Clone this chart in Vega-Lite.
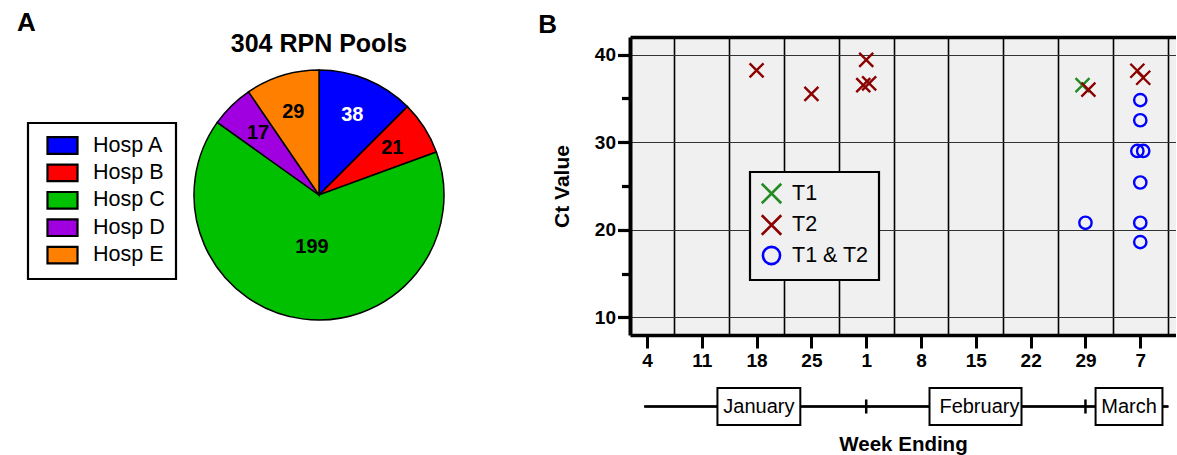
{
  "$schema": "https://vega.github.io/schema/vega-lite/v6.json",
  "background": "white",
  "padding": {"left": 16, "top": 10, "right": 0, "bottom": 0},
  "config": {
    "font": "Liberation Sans",
    "view": {"stroke": null},
    "title": {"font": "Liberation Sans", "fontWeight": "bold", "color": "black"},
    "axis": {"labelFont": "Liberation Sans", "titleFont": "Liberation Sans", "labelColor": "black", "titleColor": "black"},
    "legend": {"labelFont": "Liberation Sans", "labelColor": "black", "strokeWidth": 2.2}
  },
  "resolve": {"scale": {"color": "independent", "shape": "independent"}, "legend": {"color": "independent", "shape": "independent"}},
  "datasets": {
    "pools": [
      {"hospital": "Hosp A", "count": 38},
      {"hospital": "Hosp B", "count": 21},
      {"hospital": "Hosp C", "count": 199},
      {"hospital": "Hosp D", "count": 17},
      {"hospital": "Hosp E", "count": 29}
    ],
    "ct": [
      {"week": "2020-01-18T00:00:00Z", "target": "T2", "ct": 38.2},
      {"week": "2020-01-25T00:00:00Z", "target": "T2", "ct": 35.5},
      {"week": "2020-02-01T00:00:00Z", "target": "T2", "ct": 39.4},
      {"week": "2020-01-31T15:00:00Z", "target": "T2", "ct": 36.5},
      {"week": "2020-02-01T09:00:00Z", "target": "T2", "ct": 36.7},
      {"week": "2020-02-28T15:00:00Z", "target": "T1", "ct": 36.5},
      {"week": "2020-02-29T09:00:00Z", "target": "T2", "ct": 36.0},
      {"week": "2020-03-06T15:00:00Z", "target": "T2", "ct": 38.15},
      {"week": "2020-03-07T09:00:00Z", "target": "T2", "ct": 37.35},
      {"week": "2020-02-29T00:00:00Z", "target": "T1 & T2", "ct": 20.8},
      {"week": "2020-03-07T00:00:00Z", "target": "T1 & T2", "ct": 34.8},
      {"week": "2020-03-07T00:00:00Z", "target": "T1 & T2", "ct": 32.5},
      {"week": "2020-03-06T15:00:00Z", "target": "T1 & T2", "ct": 29.0},
      {"week": "2020-03-07T09:00:00Z", "target": "T1 & T2", "ct": 29.0},
      {"week": "2020-03-07T00:00:00Z", "target": "T1 & T2", "ct": 25.4},
      {"week": "2020-03-07T00:00:00Z", "target": "T1 & T2", "ct": 20.8},
      {"week": "2020-03-07T00:00:00Z", "target": "T1 & T2", "ct": 18.6}
    ],
    "months": [
      {"month": "January", "start": "2020-01-13T00:00:00Z", "end": "2020-01-23T14:00:00Z", "mid": "2020-01-18T07:00:00Z"},
      {"month": "February", "start": "2020-02-09T02:00:00Z", "end": "2020-02-20T20:00:00Z", "mid": "2020-02-15T11:00:00Z"},
      {"month": "March", "start": "2020-03-01T07:00:00Z", "end": "2020-03-09T20:00:00Z", "mid": "2020-03-05T13:30:00Z"}
    ],
    "boundaries": [
      {"date": "2020-02-01T00:00:00Z"},
      {"date": "2020-02-29T00:00:00Z"}
    ]
  },
  "spacing": 91,
  "hconcat": [
    {
      "title": {"text": "A", "anchor": "start", "frame": "bounds", "fontSize": 26, "dx": -10, "offset": -4},
      "vconcat": [
        {
          "width": 250,
          "height": 316,
          "title": {"text": "304 RPN Pools", "fontSize": 25, "anchor": "middle", "offset": -20},
          "data": {"name": "pools"},
          "encoding": {
            "theta": {"field": "count", "type": "quantitative", "stack": true},
            "order": {"field": "hospital", "type": "ordinal", "sort": "ascending"}
          },
          "layer": [
            {
              "mark": {"type": "arc", "stroke": "black", "strokeWidth": 1.5, "outerRadius": 125},
              "encoding": {
                "color": {
                  "field": "hospital",
                  "type": "nominal",
                  "scale": {
                    "domain": ["Hosp A", "Hosp B", "Hosp C", "Hosp D", "Hosp E"],
                    "range": ["#0000ff", "#ff0000", "#00c000", "#a000e0", "#ff8000"]
                  },
                  "legend": {
                    "orient": "none",
                    "legendX": -166,
                    "legendY": 86,
                    "title": null,
                    "symbolType": "M-1.43,-0.79L1.43,-0.79L1.43,0.79L-1.43,0.79Z",
                    "symbolSize": 441,
                    "symbolStrokeColor": "black",
                    "symbolStrokeWidth": 2.2,
                    "labelFontSize": 21.5,
                    "strokeColor": "black",
                    "fillColor": "white",
                    "padding": 10.5,
                    "rowPadding": 1.4,
                    "labelOffset": 18.5,
                    "symbolOffset": 12
                  }
                }
              }
            },
            {
              "mark": {
                "type": "text",
                "fontSize": 20,
                "fontWeight": "bold",
                "radius": {"expr": "datum.hospital === 'Hosp C' ? 52 : 87"}
              },
              "encoding": {
                "detail": {"field": "hospital", "type": "nominal"},
                "text": {"field": "count", "type": "quantitative"},
                "color": {
                  "condition": {"test": "datum.hospital === 'Hosp A'", "value": "white"},
                  "value": "black"
                }
              }
            }
          ]
        }
      ]
    },
    {
      "title": {"text": "B", "anchor": "start", "frame": "bounds", "fontSize": 26, "dx": -13, "offset": -1},
      "spacing": 17,
      "vconcat": [
        {
          "width": 546,
          "height": 298,
          "view": {"fill": "#f0f0f0"},
          "data": {"name": "ct"},
          "resolve": {"axis": {"x": "independent", "y": "independent"}},
          "layer": [
            {
              "mark": {"type": "point", "filled": false, "strokeWidth": 0, "opacity": 0},
              "encoding": {
                "x": {
                  "field": "week",
                  "type": "temporal",
                  "scale": {
                    "type": "utc",
                    "domain": [
                      {"year": 2020, "month": 1, "date": 1, "hours": 20, "utc": true},
                      {"year": 2020, "month": 3, "date": 11, "hours": 13, "minutes": 30, "utc": true}
                    ]
                  },
                  "axis": {
                    "orient": "top",
                    "values": [
                      {"year": 2020, "month": 1, "date": 7, "hours": 12, "utc": true},
                      {"year": 2020, "month": 1, "date": 14, "hours": 12, "utc": true},
                      {"year": 2020, "month": 1, "date": 21, "hours": 12, "utc": true},
                      {"year": 2020, "month": 1, "date": 28, "hours": 12, "utc": true},
                      {"year": 2020, "month": 2, "date": 4, "hours": 12, "utc": true},
                      {"year": 2020, "month": 2, "date": 11, "hours": 12, "utc": true},
                      {"year": 2020, "month": 2, "date": 18, "hours": 12, "utc": true},
                      {"year": 2020, "month": 2, "date": 25, "hours": 12, "utc": true},
                      {"year": 2020, "month": 3, "date": 3, "hours": 12, "utc": true},
                      {"year": 2020, "month": 3, "date": 10, "hours": 12, "utc": true}
                    ],
                    "grid": true,
                    "gridColor": "black",
                    "gridWidth": 1.6,
                    "ticks": false,
                    "labels": false,
                    "domain": true,
                    "domainColor": "black",
                    "domainWidth": 3.5,
                    "title": null
                  }
                },
                "y": {
                  "field": "ct",
                  "type": "quantitative",
                  "scale": {"domain": [8, 42], "nice": false, "zero": false},
                  "axis": null
                }
              }
            },
            {
              "mark": {"type": "point", "filled": false, "strokeWidth": 2.4, "size": 196, "opacity": 1},
              "encoding": {
                "x": {
                  "field": "week",
                  "type": "temporal",
                  "axis": {
                    "orient": "bottom",
                    "values": [
                      {"year": 2020, "month": 1, "date": 4, "utc": true},
                      {"year": 2020, "month": 1, "date": 11, "utc": true},
                      {"year": 2020, "month": 1, "date": 18, "utc": true},
                      {"year": 2020, "month": 1, "date": 25, "utc": true},
                      {"year": 2020, "month": 2, "date": 1, "utc": true},
                      {"year": 2020, "month": 2, "date": 8, "utc": true},
                      {"year": 2020, "month": 2, "date": 15, "utc": true},
                      {"year": 2020, "month": 2, "date": 22, "utc": true},
                      {"year": 2020, "month": 2, "date": 29, "utc": true},
                      {"year": 2020, "month": 3, "date": 7, "utc": true}
                    ],
                    "labelExpr": "utcFormat(datum.value, '%-d')",
                    "grid": false,
                    "title": null,
                    "domainColor": "black",
                    "domainWidth": 3.5,
                    "tickColor": "black",
                    "tickSize": 13,
                    "tickWidth": 3,
                    "labelFontSize": 19,
                    "labelFontWeight": "bold",
                    "labelPadding": 3,
                    "labelFlush": false,
                    "labelOverlap": false
                  }
                },
                "y": {
                  "field": "ct",
                  "type": "quantitative",
                  "axis": {
                    "values": [10, 15, 20, 25, 30, 35, 40],
                    "labelExpr": "datum.value % 10 === 0 ? datum.label : ''",
                    "grid": true,
                    "gridColor": "#333333",
                    "gridWidth": 1,
                    "gridOpacity": {"condition": {"test": "datum.value % 10 === 0", "value": 1}, "value": 0},
                    "tickSize": {"condition": {"test": "datum.value % 10 === 0", "value": 12.5}, "value": 8.5},
                    "tickWidth": 3.2,
                    "tickColor": "black",
                    "domainColor": "black",
                    "domainWidth": 4,
                    "labelFontSize": 19,
                    "labelFontWeight": "bold",
                    "labelPadding": 2,
                    "title": "Ct Value",
                    "titleFontSize": 21,
                    "titleFontWeight": "bold",
                    "titlePadding": 22
                  }
                },
                "color": {
                  "field": "target",
                  "type": "nominal",
                  "scale": {"domain": ["T1", "T2", "T1 & T2"], "range": ["#228b22", "#8b0000", "#0000ff"]},
                  "legend": {
                    "orient": "none",
                    "legendX": 120,
                    "legendY": 135,
                    "title": null,
                    "labelFontSize": 21.5,
                    "symbolSize": 380,
                    "symbolStrokeWidth": 2.6,
                    "strokeColor": "black",
                    "fillColor": "#f0f0f0",
                    "padding": 10,
                    "rowPadding": 0.5,
                    "labelOffset": 9
                  }
                },
                "shape": {
                  "field": "target",
                  "type": "nominal",
                  "scale": {
                    "domain": ["T1", "T2", "T1 & T2"],
                    "range": [
                      "M-1,-1L1,1M-1,1L1,-1",
                      "M-1,-1L1,1M-1,1L1,-1",
                      "M0.88,0A0.88,0.88 0 1,1 -0.88,0A0.88,0.88 0 1,1 0.88,0Z"
                    ]
                  }
                }
              }
            }
          ]
        },
        {
          "width": 546,
          "height": 37,
          "data": {"name": "months"},
          "layer": [
            {
              "mark": {"type": "rule", "color": "black", "strokeWidth": 2},
              "encoding": {
                "x": {
                  "datum": {"year": 2020, "month": 1, "date": 3, "hours": 16, "utc": true},
                  "type": "temporal",
                  "scale": {
                    "type": "utc",
                    "domain": [
                      {"year": 2020, "month": 1, "date": 1, "hours": 20, "utc": true},
                      {"year": 2020, "month": 3, "date": 11, "hours": 13, "minutes": 30, "utc": true}
                    ]
                  },
                  "axis": {
                    "title": "Week Ending",
                    "titleFontSize": 20.5,
                    "titleFontWeight": "bold",
                    "titlePadding": 9,
                    "labels": false,
                    "ticks": false,
                    "domain": false,
                    "grid": false
                  }
                },
                "x2": {"datum": {"year": 2020, "month": 3, "date": 10, "hours": 14, "utc": true}},
                "y": {"datum": 0, "type": "quantitative", "scale": {"domain": [-1, 1]}, "axis": null}
              }
            },
            {
              "data": {"name": "boundaries"},
              "mark": {"type": "rule", "color": "black", "strokeWidth": 2.5},
              "encoding": {
                "x": {"field": "date", "type": "temporal"},
                "y": {"datum": -0.38, "type": "quantitative"},
                "y2": {"datum": 0.38}
              }
            },
            {
              "mark": {"type": "rect", "fill": "white", "stroke": "black", "strokeWidth": 2},
              "encoding": {
                "x": {"field": "start", "type": "temporal"},
                "x2": {"field": "end"},
                "y": {"datum": -1, "type": "quantitative"},
                "y2": {"datum": 1}
              }
            },
            {
              "mark": {"type": "text", "fontSize": 20, "color": "black"},
              "encoding": {
                "x": {"field": "mid", "type": "temporal"},
                "y": {"datum": 0, "type": "quantitative"},
                "text": {"field": "month", "type": "nominal"}
              }
            }
          ]
        }
      ]
    }
  ]
}
